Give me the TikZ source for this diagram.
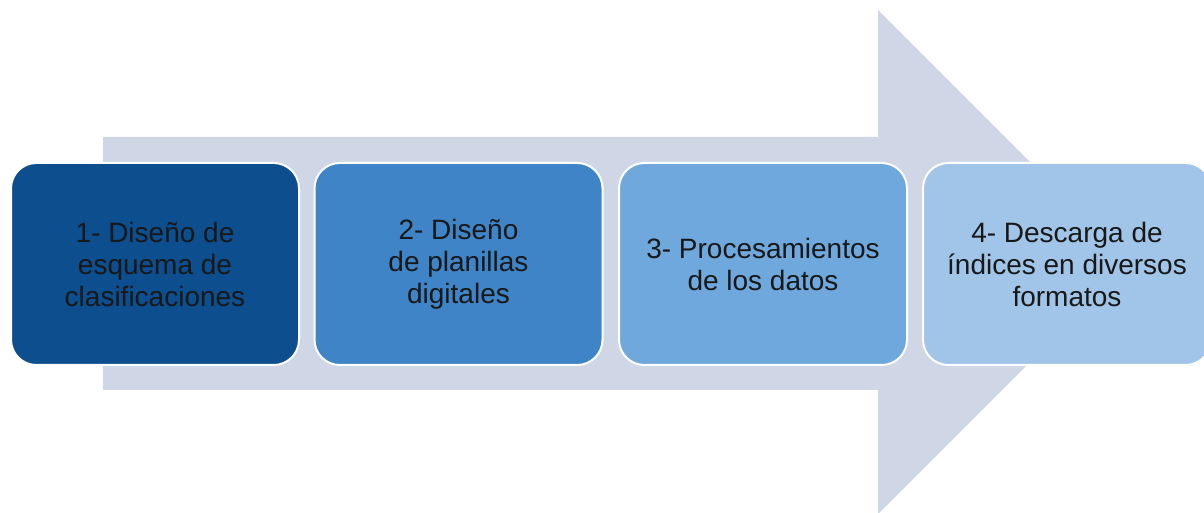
\documentclass[tikz,border=0pt]{standalone}
\usepackage{fontspec}
\setmainfont{Liberation Sans}
\definecolor{arrowgrey}{RGB}{207,215,231}
\definecolor{stepone}{RGB}{12,78,142}
\definecolor{steptwo}{RGB}{62,132,198}
\definecolor{stepthree}{RGB}{111,168,220}
\definecolor{stepfour}{RGB}{160,197,232}
\definecolor{steptext}{RGB}{24,24,24}
\tikzset{every picture/.style={line width=0.75pt}}
\tikzset{stepbox/.style={draw=white, line width=1.5pt, rounded corners=19pt, minimum width=216pt, minimum height=151.5pt, inner sep=0.75pt, align=center, text=steptext, font=\fontsize{21}{24}\selectfont}}

\begin{document}
\begin{tikzpicture}[x=0.75pt,y=0.75pt,yscale=-1,xscale=1]
    \useasboundingbox (0,0) rectangle (1204,513);

    %Right Arrow [id:dp_flow] 
    \fill [arrowgrey] (103,137) -- (878,137) -- (878,10) -- (1130,262) -- (878,514) -- (878,390) -- (103,390) -- cycle ;

    %Rounded Rect [id:dp_step1] 
    \node [stepbox, fill=stepone] (step1) at (155,264) {1- Diseño de\\esquema de\\clasificaciones};
    %Rounded Rect [id:dp_step2] 
    \node [stepbox, fill=steptwo] (step2) at (458.5,264) {2- Diseño\\de planillas\\digitales};
    %Rounded Rect [id:dp_step3] 
    \node [stepbox, fill=stepthree] (step3) at (763,264) {3- Procesamientos\\de los datos};
    %Rounded Rect [id:dp_step4] 
    \node [stepbox, fill=stepfour] (step4) at (1067,264) {4- Descarga de\\índices en diversos\\formatos};

\end{tikzpicture}
\end{document}
